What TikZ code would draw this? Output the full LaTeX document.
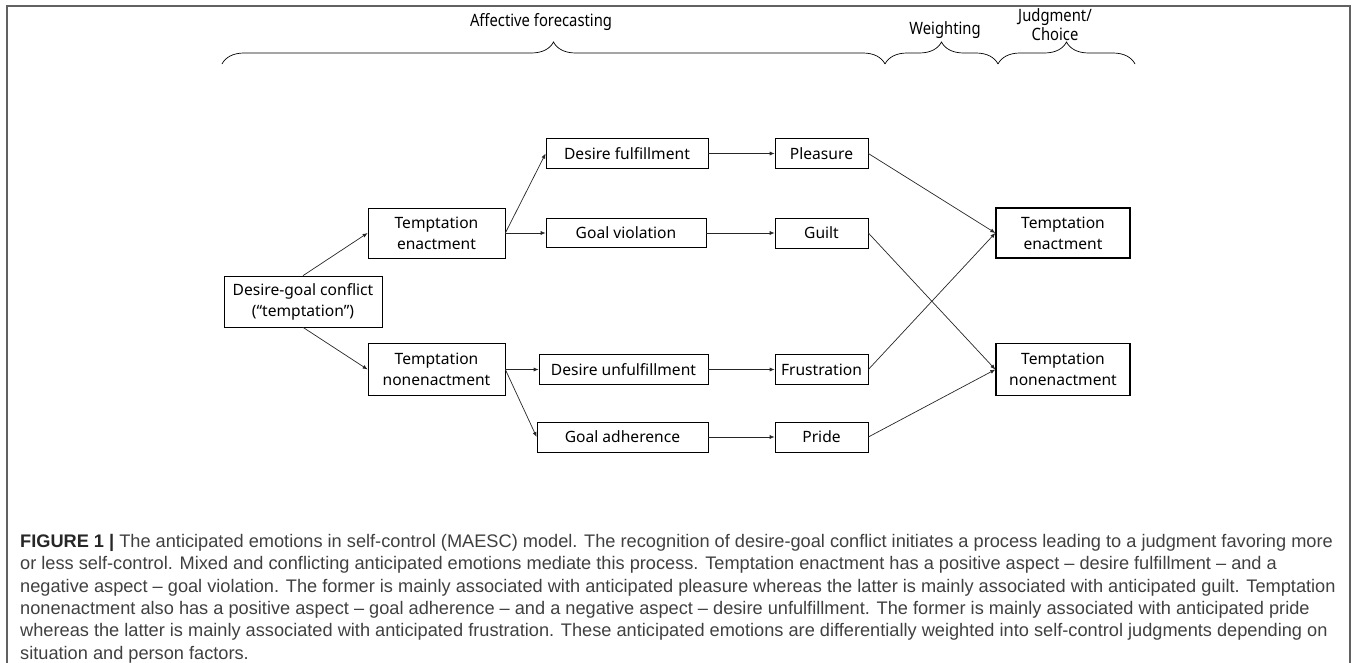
\documentclass[tikz,border=0pt]{standalone}
\usepackage{fontspec}
\setmainfont{Noto Sans}
\newfontfamily\capfont{Liberation Sans}
\newfontfamily\stagefont{Noto Sans}[FakeStretch=0.87]
\usepackage{xcolor}
\usepackage{tikz}
\usetikzlibrary{arrows.meta, decorations.pathreplacing, positioning}
\tikzset{
    boxnode/.style = {draw, rectangle, fill=none, inner sep = 0em, node distance=0em, 
      line width=0.7pt, align=center, font=\fontsize{15.6}{21}\selectfont},
    thickboxnode/.style = {boxnode, line width=1.3pt},
    textnode/.style  = {draw=none, fill=none, rectangle, inner sep = 0em, 
      node distance=0em, align=center, font=\stagefont\fontsize{17}{19}\selectfont},
    connect/.style = {black!85, line width=0.7pt, -{Latex[length=5pt, width=4pt]}},
    bracepath/.style = {decorate, decoration={brace, amplitude=22pt}, line width=0.7pt}
}
\definecolor{captiongray}{rgb}{0.25,0.25,0.25}
\definecolor{framegray}{rgb}{0.38,0.38,0.38}

\begin{document}
\begin{tikzpicture}
\useasboundingbox (-303pt,301.5pt) rectangle (1054pt,-360.5pt);
\draw [framegray, line width=1.5pt] (-296pt,-362pt) |- (1047pt,295.5pt) -- (1047pt,-362pt);

\node [boxnode, name = conflict, minimum width=158pt, minimum height=51pt] 
    {Desire-goal conflict\\(“temptation”)};

\node [boxnode, name = enactA, right of = conflict, xshift=133.5pt, yshift=68.5pt, 
    minimum width=137pt, minimum height=50pt] {Temptation\\enactment};
\node [boxnode, name = nonenactA, right of = conflict, xshift=133.5pt, yshift=-68pt, 
    minimum width=137pt, minimum height=52pt] {Temptation\\nonenactment};

\node [boxnode, name = fulfil, right of = enactA, xshift=190.5pt, yshift=79.5pt, 
    minimum width=162pt, minimum height=30pt] {Desire fulfillment};
\node [boxnode, name = violation, right of = enactA, xshift=189.5pt, 
    minimum width=160pt, minimum height=29pt] {Goal violation};
\node [boxnode, name = unfulfil, right of = nonenactA, xshift=187pt, 
    minimum width=169pt, minimum height=30pt] {Desire unfulfillment};
\node [boxnode, name = adherence, right of = nonenactA, xshift=186pt, yshift=-67.5pt, 
    minimum width=171pt, minimum height=30pt] {Goal adherence};

\node [boxnode, name = pleasure, right of = fulfil, xshift=194.5pt, 
    minimum width=93pt, minimum height=30pt] {Pleasure};
\node [boxnode, name = guilt, right of = violation, xshift=195.5pt, 
    minimum width=93pt, minimum height=30pt] {Guilt};
\node [boxnode, name = frustration, right of = unfulfil, xshift=198pt, 
    minimum width=93pt, minimum height=30pt] {Frustration};
\node [boxnode, name = pride, right of = adherence, xshift=199pt, 
    minimum width=93pt, minimum height=30pt] {Pride};

\node [thickboxnode, name = enactB, right of = guilt, xshift=241.5pt, 
    minimum width=134pt, minimum height=50pt] {Temptation\\enactment};
\node [thickboxnode, name = nonenactB, right of = frustration, xshift=241.5pt, 
    minimum width=134pt, minimum height=52pt] {Temptation\\nonenactment};

\draw (conflict.north) edge[connect] (enactA.west);
\draw (conflict.south) edge[connect] (nonenactA.west);
\draw (enactA.east) edge[connect] (fulfil.west);
\draw (enactA.east) edge[connect] (violation.west);
\draw (nonenactA.east) edge[connect] (unfulfil.west);
\draw (nonenactA.east) edge[connect] (adherence.west);
\draw (fulfil.east) edge[connect] (pleasure.west);
\draw (violation.east) edge[connect] (guilt.west);
\draw (unfulfil.east) edge[connect] (frustration.west);
\draw (adherence.east) edge[connect] (pride.west);
\draw (pleasure.east) edge[connect] (enactB.west);
\draw (frustration.east) edge[connect] (enactB.west);
\draw (guilt.east) edge[connect] (nonenactB.west);
\draw (pride.east) edge[connect] (nonenactB.west);

% stages on top
\node [textnode, name = forecast, right of = conflict, xshift=238pt, yshift=279.5pt] {Affective forecasting};
\node [textnode, name = weighting, right of = conflict, xshift=642pt, yshift=271.5pt] {Weighting};
\node [textnode, name = judgment, right of = conflict, xshift=752pt, yshift=277pt] {Judgment/\\Choice};
\draw [bracepath] (-81pt,237.5pt) -- (582pt,237.5pt);
\draw [bracepath] (582pt,237.5pt) -- (695pt,237.5pt);
\draw [bracepath] (695pt,237.5pt) -- (832pt,237.5pt);

\node [textnode, name = caption, right of = conflict, xshift=-283pt, yshift=-232.5pt, anchor=north west, 
    align=left, text=captiongray, font=\capfont\fontsize{18.2}{22.4}\selectfont] 
{{\bfseries\color{black!85}FIGURE 1 |} The anticipated emotions in self-control (MAESC) model. The recognition of desire-goal conflict initiates a process leading to a judgment favoring more\\
or less self-control. Mixed and conflicting anticipated emotions mediate this process. Temptation enactment has a positive aspect – desire fulfillment – and a\\
negative aspect – goal violation. The former is mainly associated with anticipated pleasure whereas the latter is mainly associated with anticipated guilt. Temptation\\
nonenactment also has a positive aspect – goal adherence – and a negative aspect – desire unfulfillment. The former is mainly associated with anticipated pride\\
whereas the latter is mainly associated with anticipated frustration. These anticipated emotions are differentially weighted into self-control judgments depending on\\
situation and person factors.};
\end{tikzpicture}
\end{document}
